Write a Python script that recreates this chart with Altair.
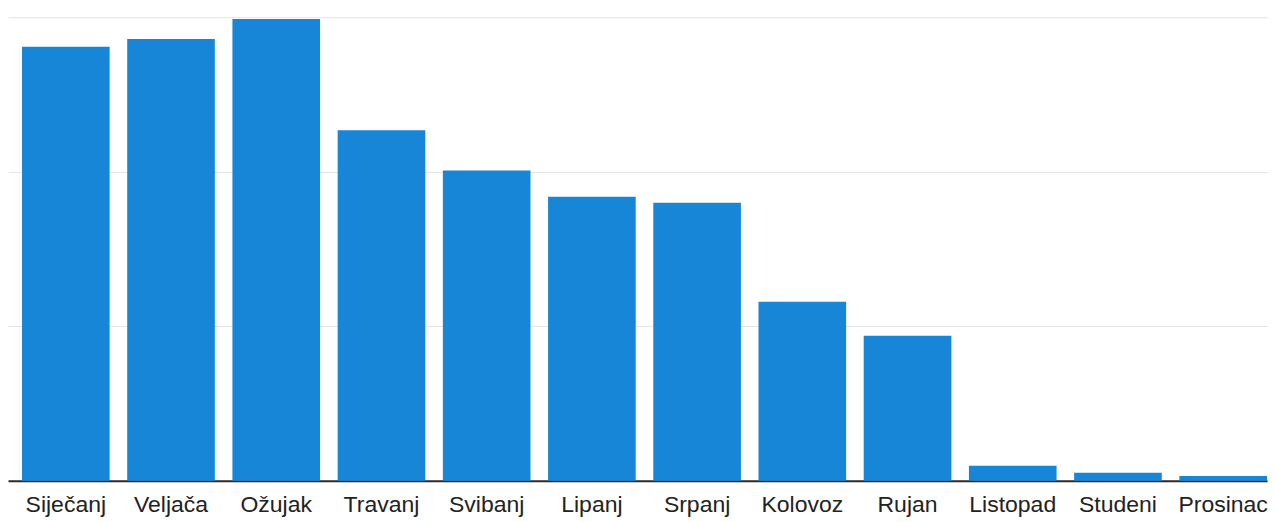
import altair as alt
import pandas as pd

months = ["Siječanj", "Veljača", "Ožujak", "Travanj", "Svibanj", "Lipanj",
          "Srpanj", "Kolovoz", "Rujan", "Listopad", "Studeni", "Prosinac"]
values = [281, 286, 299, 227, 201, 184, 180, 116, 94, 9.7, 5.2, 3.2]
grid_ticks = [0, 100, 200, 300]

df = pd.DataFrame({"month": months, "value": values})

chart = alt.Chart(df).mark_bar(color="#1886d6").encode(
    x=alt.X("month:N", sort=months, title=None,
            scale=alt.Scale(paddingInner=0.167, paddingOuter=0.0665, align=1),
            axis=alt.Axis(labelAngle=0, labelFont="Liberation Sans", labelFontSize=23,
                          labelColor="#222222", labelPadding=13, ticks=False, tickSize=0,
                          domainColor="#2a2a2a", domainWidth=2, grid=False)),
    y=alt.Y("value:Q", title=None,
            scale=alt.Scale(domain=[0, 306], nice=False, zero=True),
            axis=alt.Axis(values=grid_ticks, labels=False, ticks=False, tickSize=0,
                          domain=False, grid=True, gridColor="#e4e4e4", gridWidth=1)),
).properties(
    width=1260, height=473
).configure(
    padding=0, background="white"
).configure_view(stroke=None)

chart.save("out.html", embed_options={"renderer": "svg", "actions": False})
